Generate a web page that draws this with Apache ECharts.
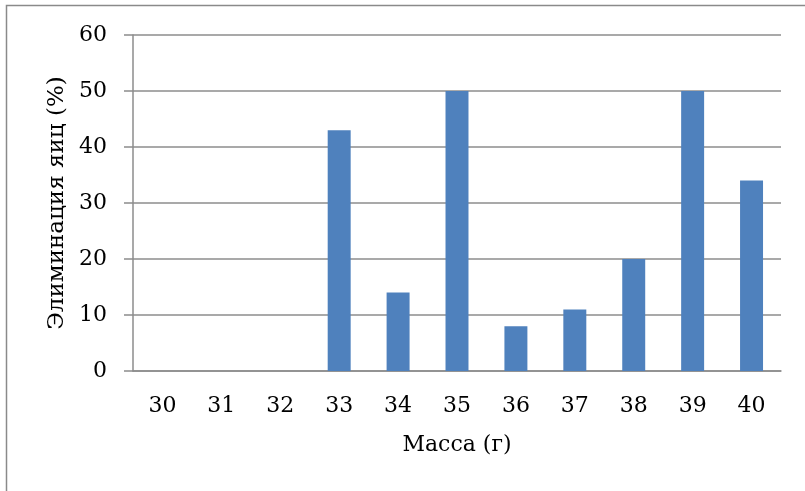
<!DOCTYPE html>
<html>
<head>
<meta charset="utf-8">
<script src="https://cdn.jsdelivr.net/npm/echarts@6/dist/echarts.min.js"></script>
<style>
  html, body { margin: 0; padding: 0; background: #fff; }
  #chart { width: 805px; height: 491px; }
</style>
</head>
<body>
<div id="chart"></div>
<script>
// Egg elimination by mass
const masses = ['30', '31', '32', '33', '34', '35', '36', '37', '38', '39', '40'];
const elimination = [0, 0, 0, 43, 14, 50, 8, 11, 20, 50, 34];
const yTicks = { min: 0, max: 60, step: 10 };

const font = '"DejaVu Serif", "Liberation Serif", serif';
const gridGray = '#8c8c8c';

const chart = echarts.init(document.getElementById('chart'), null, { renderer: 'canvas' });
chart.setOption({
  animation: false,
  backgroundColor: '#ffffff',
  graphic: [{
    type: 'rect',
    shape: { x: 6.5, y: 5.5, width: 900, height: 600 },
    style: { fill: 'none', stroke: '#8a8a8a', lineWidth: 1.5 },
    silent: true
  }],
  grid: { left: 133, right: 24, top: 35, bottom: 120 },
  xAxis: {
    type: 'category',
    data: masses,
    name: 'Масса (г)',
    nameLocation: 'middle',
    nameGap: 63,
    nameTextStyle: { fontFamily: font, fontSize: 22, color: '#000' },
    axisLine: { show: true, lineStyle: { color: gridGray, width: 1.5 } },
    axisTick: { show: false },
    axisLabel: { fontFamily: font, fontSize: 22, color: '#000', margin: 24 }
  },
  yAxis: {
    type: 'value',
    min: yTicks.min,
    max: yTicks.max,
    interval: yTicks.step,
    name: 'Элиминация яиц (%)',
    nameLocation: 'middle',
    nameGap: 63,
    nameRotate: 90,
    nameTextStyle: { fontFamily: font, fontSize: 23, color: '#000' },
    axisLine: { show: true, lineStyle: { color: gridGray, width: 1.5 } },
    axisTick: { show: true, inside: false, length: 9, lineStyle: { color: gridGray, width: 1.5 } },
    axisLabel: { fontFamily: font, fontSize: 22, color: '#000', margin: 26 },
    splitLine: { show: true, lineStyle: { color: gridGray, width: 1.5 } }
  },
  series: [{
    type: 'bar',
    data: elimination,
    barWidth: '39%',
    itemStyle: { color: '#4f81bd' }
  }]
});
</script>
</body>
</html>
